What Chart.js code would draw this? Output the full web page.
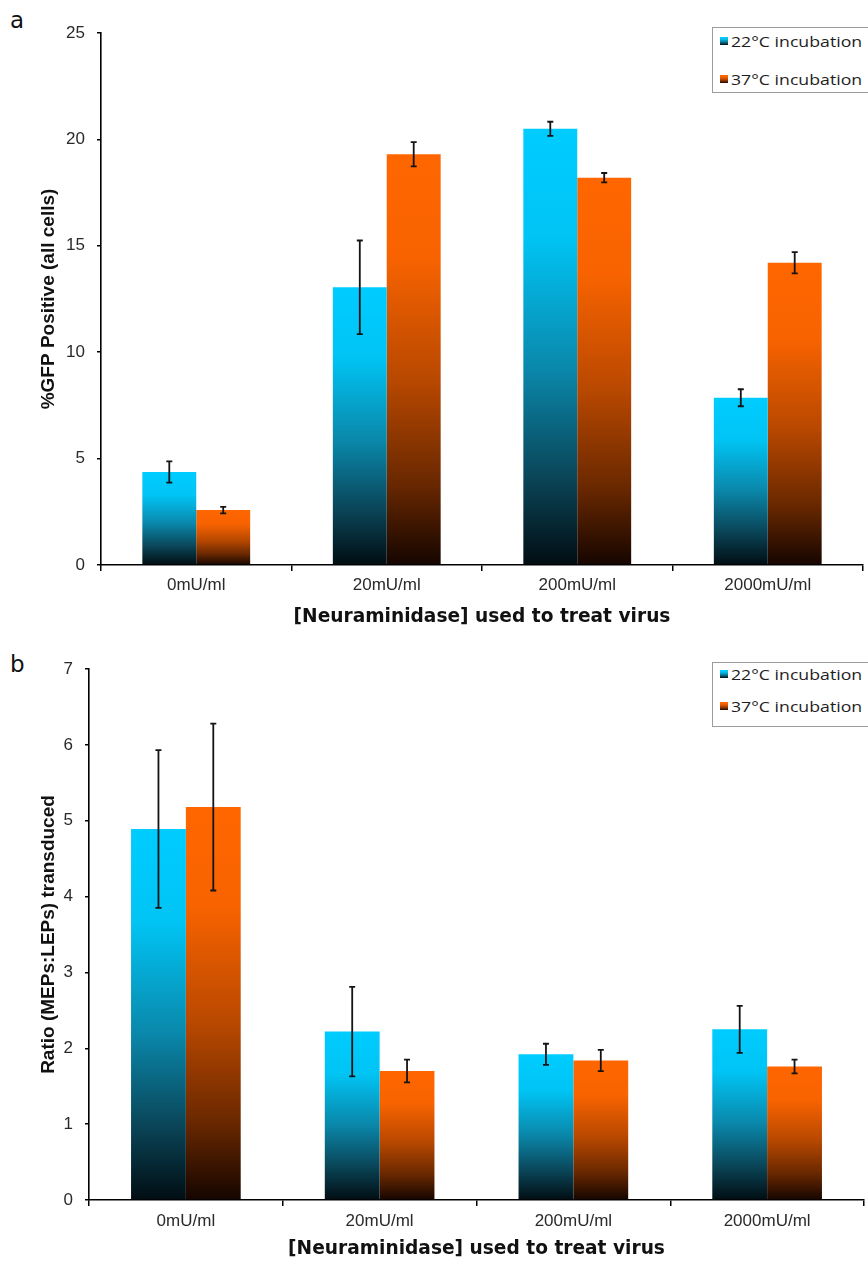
<!DOCTYPE html>
<html>
<head>
<meta charset="utf-8">
<script src="https://cdn.jsdelivr.net/npm/chart.js@4.4.1/dist/chart.umd.min.js"></script>
<style>
  html, body { margin: 0; padding: 0; background: #fff; width: 868px; height: 1262px; overflow: hidden; }
  #wrap { position: relative; width: 868px; height: 1262px; }
  #wrap canvas { position: absolute; left: 0; }
  .panel { position: absolute; font-family: "DejaVu Sans", sans-serif; font-size: 23px; color: #111; line-height: 1; }
  .legend { position: absolute; width: 200px; border: 1px solid #9c9c9c; background: #fff; }
  .item { position: absolute; left: 6px; height: 16px; white-space: nowrap; }
  .swatch { position: absolute; left: 1px; top: 4px; width: 8px; height: 8px; }
  .label { position: absolute; left: 12px; top: -2px; font-family: "Open Sans", sans-serif; font-size: 15px; color: #1e1e1e;
           transform: scaleX(1.18); transform-origin: left center; line-height: 20px; }
</style>
</head>
<body>
<div id="wrap">
  <div class="panel" style="left:10px; top:9px;">a</div>
  <div class="panel" style="left:10px; top:653px;">b</div>
  <canvas id="chartA" width="868" height="640" style="top:0;"></canvas>
  <canvas id="chartB" width="868" height="622" style="top:640px;"></canvas>
  <div class="legend" id="legendA" style="left:712px; top:27px; height:64px;"></div>
  <div class="legend" id="legendB" style="left:712px; top:662px; height:63px;"></div>
</div>
<script>
// Neuraminidase treatments on the x axis
const categories = ['0mU/ml', '20mU/ml', '200mU/ml', '2000mU/ml'];
const seriesNames = ['22°C incubation', '37°C incubation'];

// (a) %GFP positive cells, means and error half-widths
const gfp22 = [4.37, 13.05, 20.5, 7.86];
const gfp37 = [2.58, 19.3, 18.2, 14.2];
const gfp22Err = [0.5, 2.2, 0.33, 0.4];
const gfp37Err = [0.15, 0.57, 0.22, 0.5];
const gfpTicks = [0, 5, 10, 15, 20, 25];

// (b) ratio of MEPs to LEPs transduced
const ratio22 = [4.89, 2.22, 1.92, 2.25];
const ratio37 = [5.18, 1.70, 1.84, 1.76];
const ratio22Err = [1.04, 0.59, 0.14, 0.31];
const ratio37Err = [1.1, 0.15, 0.14, 0.09];
const ratioTicks = [0, 1, 2, 3, 4, 5, 6, 7];

const blueStops = [[0, '#00ccff'], [0.25, '#00c4f4'], [0.55, '#0a88ab'], [0.8, '#0a4558'], [1, '#010d12']];
const orangeStops = [[0, '#ff6600'], [0.25, '#f86300'], [0.55, '#b84800'], [0.8, '#6a2800'], [1, '#150500']];

// Each bar fades from its colour at the top to near black at the baseline
function barGradient(stops) {
  return (c) => {
    const chart = c.chart;
    const y = chart.scales && chart.scales.y;
    if (!chart.chartArea || !y || c.raw === undefined) return stops[0][1];
    const top = y.getPixelForValue(c.raw);
    const base = y.getPixelForValue(0);
    if (!isFinite(top) || !isFinite(base) || Math.abs(base - top) < 1) return stops[0][1];
    const g = chart.ctx.createLinearGradient(0, top, 0, base);
    stops.forEach(([o, col]) => g.addColorStop(o, col));
    return g;
  };
}

// Symmetric error bars drawn above the bars
const errorBars = {
  id: 'errorBars',
  afterDatasetsDraw(chart) {
    const { ctx } = chart;
    const y = chart.scales.y;
    ctx.save();
    ctx.strokeStyle = '#141414';
    ctx.lineWidth = 1.8;
    chart.data.datasets.forEach((ds, di) => {
      const meta = chart.getDatasetMeta(di);
      meta.data.forEach((bar, i) => {
        const v = ds.data[i], e = ds.errors[i];
        const yt = y.getPixelForValue(v + e);
        const yb = y.getPixelForValue(v - e);
        const x = bar.x;
        ctx.beginPath();
        ctx.moveTo(x, yt); ctx.lineTo(x, yb);
        ctx.moveTo(x - 3, yt); ctx.lineTo(x + 3, yt);
        ctx.moveTo(x - 3, yb); ctx.lineTo(x + 3, yb);
        ctx.stroke();
      });
    });
    ctx.restore();
  }
};

function makeChart(id, d22, d37, e22, e37, ticks, yTitle, cfg) {
  return new Chart(document.getElementById(id), {
    type: 'bar',
    data: {
      labels: categories,
      datasets: [
        { label: seriesNames[0], data: d22, errors: e22, backgroundColor: barGradient(blueStops), borderWidth: 0 },
        { label: seriesNames[1], data: d37, errors: e37, backgroundColor: barGradient(orangeStops), borderWidth: 0 }
      ]
    },
    options: {
      responsive: false,
      animation: false,
      devicePixelRatio: 1,
      categoryPercentage: 0.566,
      barPercentage: 1.0,
      layout: { padding: { top: cfg.top, right: cfg.right, left: 0, bottom: 0 } },
      plugins: { legend: { display: false }, tooltip: { enabled: false } },
      scales: {
        x: {
          afterFit: (s) => { s.height = cfg.xHeight; },
          grid: { display: true, drawOnChartArea: false, drawTicks: true, tickLength: 6, color: '#000', lineWidth: 1.5, offset: true },
          border: { display: true, color: '#000', width: 1.6 },
          ticks: { color: '#2a2a2a', padding: cfg.xPad, font: { family: 'Liberation Sans', size: 17 } },
          title: { display: true, text: '[Neuraminidase] used to treat virus', color: '#111',
                   font: { family: 'DejaVu Sans', size: 18.6, weight: 'bold' }, padding: { top: 0, bottom: cfg.xTitlePad } }
        },
        y: {
          min: ticks[0], max: ticks[ticks.length - 1],
          afterFit: (s) => { s.width = cfg.yWidth; },
          afterBuildTicks: (s) => { s.ticks = ticks.map(v => ({ value: v })); },
          grid: { display: true, drawOnChartArea: false, drawTicks: true, tickLength: 4, color: '#000', lineWidth: 1.5 },
          border: { display: true, color: '#000', width: 1.6 },
          ticks: { color: '#2a2a2a', padding: 12, font: { family: 'Liberation Sans', size: 17 } },
          title: { display: true, text: yTitle, color: '#111',
                   font: { family: 'Liberation Sans', size: 19, weight: 'bold' }, padding: { top: 37, bottom: 0 } }
        }
      }
    },
    plugins: [errorBars]
  });
}

makeChart('chartA', gfp22, gfp37, gfp22Err, gfp37Err, gfpTicks, '%GFP Positive (all cells)',
  { top: 33, right: 5, xHeight: 75, xPad: 4, xTitlePad: 12, yWidth: 101 });
makeChart('chartB', ratio22, ratio37, ratio22Err, ratio37Err, ratioTicks, 'Ratio (MEPs:LEPs) transduced',
  { top: 29, right: 4, xHeight: 62, xPad: 5, xTitlePad: 2, yWidth: 89 });

// HTML legends with gradient swatches
function cssGradient(stops) {
  return 'linear-gradient(to bottom,' + stops.map(([o, c]) => c + ' ' + (o * 100) + '%').join(',') + ')';
}
function buildLegend(id, rowTops) {
  const box = document.getElementById(id);
  [blueStops, orangeStops].forEach((stops, i) => {
    const item = document.createElement('div');
    item.className = 'item';
    item.style.top = rowTops[i] + 'px';
    const sw = document.createElement('div');
    sw.className = 'swatch';
    sw.style.background = cssGradient(stops);
    const lab = document.createElement('div');
    lab.className = 'label';
    lab.textContent = seriesNames[i];
    item.appendChild(sw); item.appendChild(lab);
    box.appendChild(item);
  });
}
buildLegend('legendA', [5, 43]);
buildLegend('legendB', [3, 35]);
</script>
</body>
</html>
